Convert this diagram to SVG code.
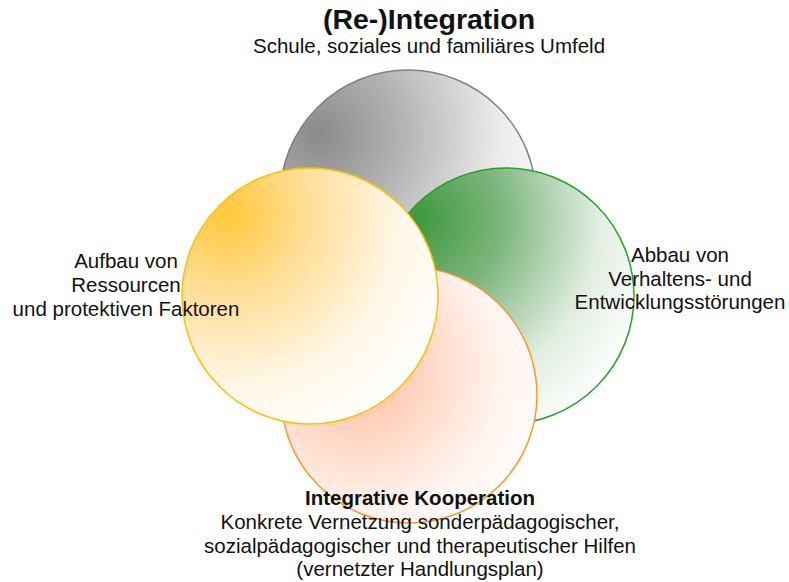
<svg xmlns="http://www.w3.org/2000/svg" width="789" height="582" viewBox="0 0 789 582">
<style>
text{font-family:"Liberation Sans",Arial,sans-serif;fill:#111;text-anchor:middle;font-size:20.5px}
.b{font-weight:bold}
.t{font-weight:bold;font-size:28.5px}
circle{stroke-width:1.5}
</style>
<defs>
<radialGradient id="gGray" cx="0.15" cy="0.25" r="0.95" fx="0.15" fy="0.25">
<stop offset="0" stop-color="#8a8a8a"/>
<stop offset="0.35" stop-color="#b4b4b4"/>
<stop offset="0.75" stop-color="#ececec"/>
<stop offset="1" stop-color="#fbfbfb"/>
</radialGradient>
<radialGradient id="gGreen" cx="0.15" cy="0.2" r="0.95" fx="0.15" fy="0.2">
<stop offset="0" stop-color="#3d983d"/>
<stop offset="0.35" stop-color="#7db57d"/>
<stop offset="0.75" stop-color="#e2eee2"/>
<stop offset="1" stop-color="#fbfdfb"/>
</radialGradient>
<radialGradient id="gOrange" cx="0.3" cy="0.4" r="0.8" fx="0.3" fy="0.4">
<stop offset="0" stop-color="#ffb896"/>
<stop offset="0.3" stop-color="#ffd4c0"/>
<stop offset="0.7" stop-color="#fff4ef"/>
<stop offset="1" stop-color="#ffffff"/>
</radialGradient>
<radialGradient id="gYellow" cx="0.18" cy="0.18" r="0.95" fx="0.18" fy="0.18">
<stop offset="0" stop-color="#ffc83a"/>
<stop offset="0.3" stop-color="#ffdc90"/>
<stop offset="0.7" stop-color="#fff6e6"/>
<stop offset="1" stop-color="#ffffff"/>
</radialGradient>
</defs>
<g id="node-reintegration">
<circle cx="408" cy="198" r="128" fill="url(#gGray)" stroke="#808080"/>
<text class="t" x="429" y="29">(Re-)Integration</text>
<text x="429" y="53">Schule, soziales und familiäres Umfeld</text>
</g>
<g id="node-abbau">
<circle cx="506" cy="296" r="128" fill="url(#gGreen)" stroke="#2ca02c"/>
<text x="680" y="262">Abbau von</text>
<text x="680" y="286">Verhaltens- und</text>
<text x="680" y="309">Entwicklungsstörungen</text>
</g>
<g id="node-kooperation">
<circle cx="409" cy="395" r="128" fill="url(#gOrange)" stroke="#f79a2e"/>
<text class="b" x="420" y="505">Integrative Kooperation</text>
<text x="420" y="529">Konkrete Vernetzung sonderpädagogischer,</text>
<text x="420" y="553">sozialpädagogischer und therapeutischer Hilfen</text>
<text x="420" y="576">(vernetzter Handlungsplan)</text>
</g>
<g id="node-aufbau">
<circle cx="310" cy="296" r="128" fill="url(#gYellow)" stroke="#ffc000"/>
<text x="126" y="268">Aufbau von</text>
<text x="126" y="292">Ressourcen</text>
<text x="126" y="316">und protektiven Faktoren</text>
</g>
</svg>
